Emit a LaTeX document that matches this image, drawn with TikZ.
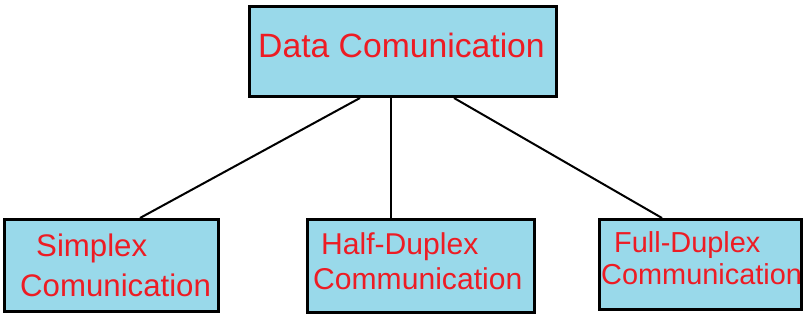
\documentclass[tikz,border=0pt]{standalone}
\usepackage{fontspec}
\setmainfont{Liberation Sans}
\usetikzlibrary{positioning}
\definecolor{boxblue}{RGB}{153,217,234}
\definecolor{txtred}{RGB}{237,28,36}

\begin{document}
\begin{tikzpicture}[x=1pt,y=-1pt,
  box/.style={draw=black,fill=boxblue,line width=3pt,inner sep=0pt},
  lbl/.style={text=txtred,inner sep=0pt,anchor=base west},
  link/.style={line width=2pt}]
\useasboundingbox (0,0) rectangle (806,320);
% boxes
\node[box,minimum width=307pt,minimum height=90pt] (data) at (403,51.5) {};
\node[box,minimum width=214pt,minimum height=92pt] (simplex) at (111.5,265.5) {};
\node[box,minimum width=227pt,minimum height=93pt] (half) at (421,266) {};
\node[box,minimum width=202pt,minimum height=90pt] (full) at (700.5,264.5) {};
% texts
\node[lbl,font=\fontsize{33.7}{36}\selectfont] (datatxt) at (258,58) {Data Comunication};
\node[lbl,font=\fontsize{31.2}{32}\selectfont] (simplextxt) at (36,257) {Simplex};
\node[lbl,font=\fontsize{31.2}{32}\selectfont] (simplextxtb) at (20,297) {Comunication};
\node[lbl,font=\fontsize{30.1}{30}\selectfont] (halftxt) at (321,255) {Half-Duplex};
\node[lbl,font=\fontsize{30.1}{30}\selectfont] (halftxtb) at (313,290) {Communication};
\node[lbl,font=\fontsize{28.9}{29}\selectfont] (fulltxt) at (614,253) {Full-Duplex};
\node[lbl,font=\fontsize{28.9}{29}\selectfont] (fulltxtb) at (601,285) {Communication};
% connectors
\draw[link] ([xshift=-43pt]data.south) -- ([xshift=28.5pt]simplex.north);
\draw[link] ([xshift=-12.3pt]data.south) -- ([xshift=-30.3pt]half.north);
\draw[link] ([xshift=51pt]data.south) -- ([xshift=-38.5pt]full.north);
\end{tikzpicture}
\end{document}
